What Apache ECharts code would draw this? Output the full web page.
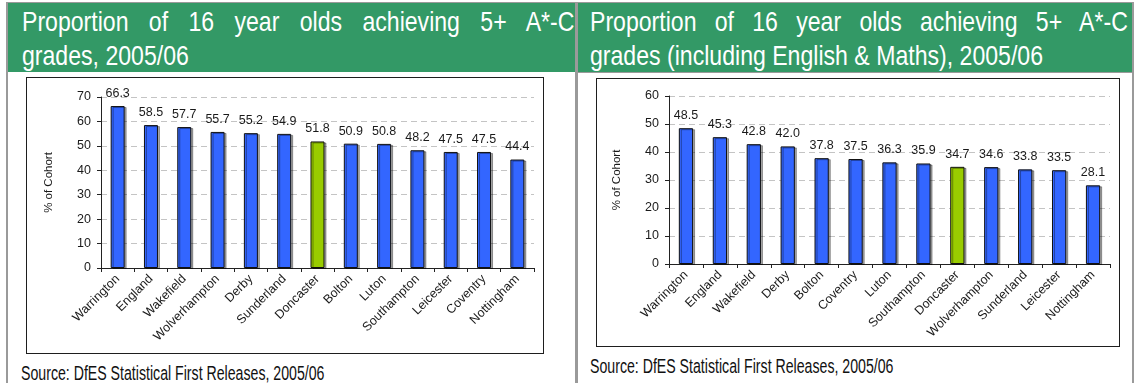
<!DOCTYPE html>
<html>
<head>
<meta charset="utf-8">
<script src="https://cdn.jsdelivr.net/npm/echarts@6/dist/echarts.min.js"></script>
<style>
  html, body { margin: 0; padding: 0; background: #fff; }
  body { width: 1135px; height: 383px; position: relative; overflow: hidden; }
  .rule { position: absolute; background: #9a9a9a; }
  .head { position: absolute; top: 3px; height: 69px; background: #339966; overflow: hidden; }
  /* condensed sans: regular face squeezed horizontally */
  .narrow {
    position: absolute; left: 0; top: 0; transform-origin: 0 0;
    font-family: 'Liberation Sans', Arial, sans-serif; white-space: nowrap;
  }
  .head .narrow { color: #fff; font-size: 28.5px; line-height: 34px; transform: scaleX(0.81); }
  .head .l1 { text-align: justify; text-align-last: justify; }
  .head .l2 { text-align: left; }
  .frame { position: absolute; border: 1.5px solid #1e1e1e; box-sizing: border-box; background: #fff; }
  .chart { position: absolute; left: 0; top: 0; right: 0; bottom: 0; }
  .source { position: absolute; height: 24px; width: 540px; }
  .source .narrow { color: #111; font-size: 20.5px; line-height: 24px; transform: scaleX(0.69); }
</style>
</head>
<body>
  <!-- table rules -->
  <div class="rule" style="left:6px; top:2px; width:1128px; height:2px;"></div>
  <div class="rule" style="left:6px; top:2px; width:2px; height:381px;"></div>
  <div class="rule" style="left:575px; top:2px; width:3px; height:381px;"></div>
  <div class="rule" style="left:1132px; top:2px; width:2px; height:381px;"></div>
  <div class="rule" style="left:578px; top:71px; width:556px; height:2px;"></div>

  <div class="head" style="left:8px; width:567px;">
    <div class="narrow" style="left:14px; top:1px; width:682px;">
      <div class="l1">Proportion of 16 year olds achieving 5+ A*-C</div>
      <div class="l2">grades, 2005/06</div>
    </div>
  </div>
  <div class="head" style="left:578px; width:554px;">
    <div class="narrow" style="left:12px; top:1px; width:664px;">
      <div class="l1">Proportion of 16 year olds achieving 5+ A*-C</div>
      <div class="l2">grades (including English &amp; Maths), 2005/06</div>
    </div>
  </div>

  <div class="frame" style="left:26px; top:77px; width:518px; height:277px;"><div id="c1" class="chart"></div></div>
  <div class="frame" style="left:596px; top:78px; width:524px; height:269px;"><div id="c2" class="chart"></div></div>

  <div class="source" style="left:21px; top:361px;"><div class="narrow">Source: DfES Statistical First Releases, 2005/06</div></div>
  <div class="source" style="left:590px; top:354px;"><div class="narrow">Source: DfES Statistical First Releases, 2005/06</div></div>

<script>
// 5+ A*-C grades, 2005/06
const allGradesAreas = ['Warrington', 'England', 'Wakefield', 'Wolverhampton', 'Derby', 'Sunderland', 'Doncaster', 'Bolton', 'Luton', 'Southampton', 'Leicester', 'Coventry', 'Nottingham'];
const allGradesValues = [66.3, 58.5, 57.7, 55.7, 55.2, 54.9, 51.8, 50.9, 50.8, 48.2, 47.5, 47.5, 44.4];
const allGradesTicks = [0, 10, 20, 30, 40, 50, 60, 70];

// 5+ A*-C grades including English & Maths, 2005/06
const engMathsAreas = ['Warrington', 'England', 'Wakefield', 'Derby', 'Bolton', 'Coventry', 'Luton', 'Southampton', 'Doncaster', 'Wolverhampton', 'Sunderland', 'Leicester', 'Nottingham'];
const engMathsValues = [48.5, 45.3, 42.8, 42.0, 37.8, 37.5, 36.3, 35.9, 34.7, 34.6, 33.8, 33.5, 28.1];
const engMathsTicks = [0, 10, 20, 30, 40, 50, 60];

const highlightArea = 'Doncaster';
const axisName = '% of Cohort';

const BLUE = '#3366ff';
const GREEN = '#99cc00';
const FONT = "'Liberation Sans', Arial, sans-serif";

function buildOption(areas, values, ticks, grid) {
  const step = ticks[1] - ticks[0];
  return {
    animation: false,
    grid: Object.assign({ containLabel: false }, grid),
    xAxis: {
      type: 'category',
      data: areas,
      boundaryGap: true,
      axisLine: { lineStyle: { color: '#222', width: 1 } },
      axisTick: { show: true, alignWithLabel: false, length: 4, lineStyle: { color: '#222' } },
      axisLabel: {
        interval: 0, rotate: 45, margin: 9,
        fontFamily: FONT, fontSize: 12.5, color: '#1a1a1a'
      },
      splitLine: { show: false }
    },
    yAxis: {
      type: 'value',
      min: ticks[0],
      max: ticks[ticks.length - 1],
      interval: step,
      name: axisName,
      nameLocation: 'middle',
      nameRotate: 90,
      nameGap: 46,
      nameTextStyle: { fontFamily: FONT, fontSize: 11.5, color: '#1a1a1a' },
      axisLine: { show: true, lineStyle: { color: '#222', width: 1 } },
      axisTick: { show: true, inside: false, length: 4, lineStyle: { color: '#222' } },
      axisLabel: { margin: 10, fontFamily: FONT, fontSize: 12.5, color: '#1a1a1a' },
      splitLine: { show: true, lineStyle: { color: '#c4c4c4', type: [6, 4], width: 1 } }
    },
    series: [{
      type: 'bar',
      barWidth: '42%',
      data: values.map((v, i) => ({
        value: v,
        itemStyle: { color: areas[i] === highlightArea ? GREEN : BLUE }
      })),
      itemStyle: {
        borderColor: '#111', borderWidth: 1,
        shadowColor: 'rgba(0,0,0,0.35)', shadowOffsetX: 2, shadowOffsetY: 1, shadowBlur: 0
      },
      label: {
        show: true, position: 'top', distance: 6,
        fontFamily: FONT, fontSize: 12.5, color: '#1a1a1a',
        formatter: p => p.value.toFixed(1)
      }
    }]
  };
}

const chart1 = echarts.init(document.getElementById('c1'), null, { renderer: 'canvas' });
chart1.setOption(buildOption(allGradesAreas, allGradesValues, allGradesTicks,
  { left: 74, right: 9, top: 19, bottom: 85 }));

const chart2 = echarts.init(document.getElementById('c2'), null, { renderer: 'canvas' });
chart2.setOption(buildOption(engMathsAreas, engMathsValues, engMathsTicks,
  { left: 72, right: 9, top: 17, bottom: 82 }));
</script>
</body>
</html>
